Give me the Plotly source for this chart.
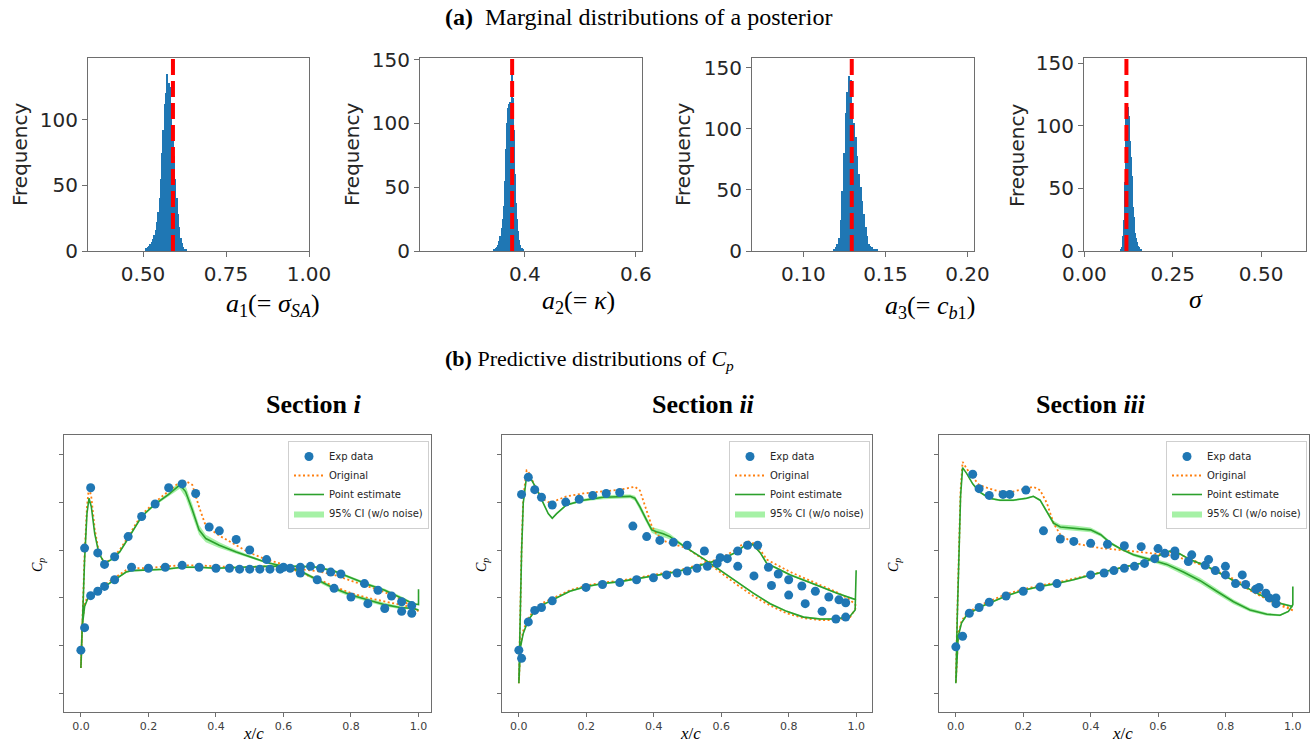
import numpy as np
import plotly.graph_objects as go

W, H = 1311, 744

# ---------------- (a) marginal posterior histograms ----------------
a1_bin_start, a1_bin_width = 0.510, 0.004
a1_counts = [2, 3, 4, 5, 7, 9, 12, 16, 22, 30, 40, 55, 75, 92, 112, 120, 135, 128, 125, 112,
             90, 72, 55, 40, 28, 18, 10, 6, 3, 1, 1]
a2_bin_start, a2_bin_width = 0.344, 0.002
a2_counts = [1, 1, 2, 3, 5, 8, 12, 18, 25, 35, 55, 80, 100, 112, 115, 117, 148, 120, 95, 60,
             38, 25, 16, 9, 5, 2, 1]
a3_bin_start, a3_bin_width = 0.119, 0.001
a3_counts = [1, 3, 6, 11, 25, 49, 80, 113, 130, 143, 140, 117, 105, 93, 78, 63, 52, 41, 30, 20,
             12, 6, 4, 3, 2, 1, 1]
sg_bin_start, sg_bin_width = 0.104, 0.002
sg_counts = [1, 3, 6, 12, 25, 55, 88, 108, 118, 117, 115, 108, 98, 88, 75, 60, 47, 35, 27, 20,
             14, 10, 7, 5, 4, 3, 2, 1, 1]
point_estimates = [0.59, 0.377, 0.1295, 0.119]

# ---------------- (b) Cp data: Section i ----------------
s1_exp_x = [0, 0.011, 0.011, 0.029, 0.029, 0.05, 0.05, 0.07, 0.07, 0.10, 0.10, 0.14, 0.15, 0.18, 0.20,
            0.22, 0.25, 0.26, 0.30, 0.30, 0.34, 0.35, 0.38, 0.41, 0.40, 0.44, 0.46, 0.47, 0.50, 0.50,
            0.53, 0.55, 0.56, 0.59, 0.60, 0.62, 0.65, 0.65, 0.68, 0.70, 0.71, 0.74, 0.75, 0.77, 0.80,
            0.84, 0.85, 0.88, 0.90, 0.92, 0.95, 0.95, 0.98, 0.98]
s1_exp_cp = [1.045, 0.81, -0.02, -0.65, 0.476, 0.03, 0.43, 0.15, 0.38, 0.07, 0.31, -0.14, 0.18, -0.35,
             0.19, -0.48, 0.18, -0.65, -0.69, 0.16, -0.59, 0.18, -0.24, -0.20, 0.19, 0.19, -0.11, 0.20,
             0.0, 0.20, 0.20, 0.10, 0.20, 0.20, 0.18, 0.19, 0.18, 0.24, 0.17, 0.31, 0.19, 0.23, 0.40,
             0.25, 0.49, 0.35, 0.56, 0.42, 0.61, 0.48, 0.64, 0.54, 0.66, 0.58]
s1_suc_x = [0.000, 0.004, 0.011, 0.018, 0.024, 0.031, 0.041, 0.053, 0.070, 0.090, 0.115, 0.140, 0.180,
            0.220, 0.260, 0.293, 0.310, 0.330, 0.350, 0.370, 0.410, 0.460, 0.500, 0.550, 0.600, 0.650,
            0.700, 0.750, 0.800, 0.850, 0.900, 0.945, 0.985, 1.000]
s1_suc_pe = [1.23, 0.73, 0.10, -0.38, -0.54, -0.45, -0.17, 0.03, 0.14, 0.10, 0.02, -0.12, -0.35, -0.48,
             -0.58, -0.68, -0.61, -0.42, -0.21, -0.12, -0.05, 0.02, 0.07, 0.13, 0.17, 0.22, 0.31, 0.40,
             0.47, 0.52, 0.57, 0.60, 0.61, 0.625]
s1_suc_orig = [1.23, 0.70, 0.05, -0.45, -0.66, -0.55, -0.22, 0.02, 0.14, 0.09, 0.00, -0.14, -0.37, -0.50,
               -0.61, -0.71, -0.72, -0.68, -0.45, -0.25, -0.15, -0.05, 0.03, 0.10, 0.15, 0.24, 0.30,
               0.38, 0.45, 0.50, 0.54, 0.57, 0.60, 0.64]
s1_suc_ci = [0.01, 0.01, 0.01, 0.01, 0.01, 0.01, 0.01, 0.01, 0.01, 0.01, 0.01, 0.01, 0.01, 0.015, 0.02,
             0.04, 0.06, 0.06, 0.05, 0.04, 0.03, 0.02, 0.015, 0.01, 0.01, 0.015, 0.02, 0.02, 0.02, 0.02,
             0.02, 0.015, 0.01, 0.01]
s1_pre_x = [0.000, 0.004, 0.011, 0.021, 0.036, 0.070, 0.100, 0.134, 0.150, 0.200, 0.250, 0.300, 0.350,
            0.400, 0.475, 0.550, 0.600, 0.650, 0.700, 0.750, 0.800, 0.850, 0.900, 0.950, 0.985, 1.000, 1.000]
s1_pre_pe = [1.23, 0.80, 0.59, 0.50, 0.46, 0.38, 0.31, 0.23, 0.215, 0.21, 0.20, 0.18, 0.18, 0.19, 0.18,
             0.17, 0.17, 0.17, 0.18, 0.22, 0.29, 0.36, 0.42, 0.50, 0.56, 0.57, 0.41]
s1_pre_orig = [1.23, 0.78, 0.56, 0.48, 0.44, 0.36, 0.29, 0.21, 0.19, 0.19, 0.17, 0.16, 0.16, 0.17, 0.18,
               0.17, 0.18, 0.20, 0.22, 0.26, 0.32, 0.38, 0.44, 0.52, 0.60, 0.64, 0.64]
s1_pre_ci = [0.01] * 19 + [0.015, 0.015, 0.015, 0.015, 0.015, 0.01, 0.0, 0.0]

# ---------------- Section ii ----------------
s2_exp_x = [0, 0.008, 0.008, 0.028, 0.028, 0.047, 0.047, 0.067, 0.067, 0.099, 0.099, 0.139, 0.179, 0.199,
            0.219, 0.248, 0.259, 0.299, 0.299, 0.338, 0.349, 0.379, 0.399, 0.418, 0.438, 0.458, 0.469,
            0.499, 0.499, 0.528, 0.55, 0.559, 0.588, 0.597, 0.618, 0.649, 0.649, 0.678, 0.697, 0.708,
            0.74, 0.749, 0.769, 0.80, 0.80, 0.839, 0.849, 0.879, 0.899, 0.919, 0.94, 0.949, 0.969, 0.969]
s2_exp_cp = [1.045, 1.13, -0.58, -0.76, 0.75, -0.63, 0.63, -0.55, 0.60, -0.47, 0.53, -0.50, -0.53, 0.39,
             -0.57, 0.36, -0.59, -0.60, 0.34, -0.25, 0.31, -0.14, 0.29, -0.10, 0.26, -0.08, 0.24, -0.05,
             0.22, 0.19, 0.01, 0.17, 0.14, 0.08, 0.09, 0.01, 0.17, -0.05, 0.27, -0.05, 0.18, 0.37, 0.25,
             0.31, 0.47, 0.375, 0.56, 0.43, 0.64, 0.49, 0.72, 0.52, 0.70, 0.55]
s2_suc_x = [0.000, 0.003, 0.008, 0.013, 0.023, 0.028, 0.038, 0.052, 0.072, 0.087, 0.099, 0.112, 0.141,
            0.191, 0.250, 0.300, 0.330, 0.344, 0.359, 0.379, 0.394, 0.408, 0.428, 0.448, 0.468, 0.498,
            0.547, 0.596, 0.646, 0.695, 0.745, 0.794, 0.844, 0.893, 0.943, 0.982, 0.997, 1.000]
s2_suc_pe = [1.39, 0.73, 0.03, -0.49, -0.77, -0.78, -0.73, -0.64, -0.50, -0.38, -0.33, -0.38, -0.47,
             -0.52, -0.55, -0.56, -0.56, -0.54, -0.45, -0.31, -0.21, -0.19, -0.17, -0.14, -0.09, -0.02,
             0.09, 0.21, 0.33, 0.45, 0.56, 0.64, 0.70, 0.72, 0.72, 0.69, 0.625, 0.21]
s2_suc_orig = [1.39, 0.70, 0.00, -0.55, -0.83, -0.82, -0.74, -0.63, -0.53, -0.50, -0.50, -0.52, -0.56,
               -0.59, -0.61, -0.63, -0.65, -0.66, -0.62, -0.42, -0.25, -0.17, -0.10, -0.07, -0.05,
               -0.02, 0.10, 0.23, 0.36, 0.48, 0.58, 0.66, 0.71, 0.73, 0.73, 0.70, 0.62, 0.58]
s2_suc_ci = [0.01] * 13 + [0.015, 0.02, 0.02, 0.02, 0.025, 0.03, 0.03, 0.03, 0.035, 0.035, 0.03, 0.02] \
            + [0.01] * 12 + [0.0]
s2_pre_x = [0.000, 0.005, 0.013, 0.028, 0.047, 0.072, 0.099, 0.151, 0.200, 0.250, 0.300, 0.349, 0.399,
            0.448, 0.498, 0.547, 0.587, 0.617, 0.646, 0.666, 0.681, 0.696, 0.716, 0.735, 0.765, 0.805,
            0.844, 0.893, 0.943, 0.982, 1.000]
s2_pre_pe = [1.39, 1.01, 0.87, 0.73, 0.64, 0.57, 0.52, 0.43, 0.38, 0.35, 0.33, 0.30, 0.27, 0.24, 0.20,
             0.15, 0.11, 0.07, 0.02, -0.04, -0.08, -0.05, 0.03, 0.14, 0.19, 0.26, 0.31, 0.38, 0.45, 0.50,
             0.52]
s2_pre_orig = [1.39, 0.98, 0.84, 0.71, 0.62, 0.55, 0.50, 0.42, 0.37, 0.34, 0.32, 0.29, 0.26, 0.23, 0.19,
               0.14, 0.10, 0.05, -0.01, -0.07, -0.09, -0.07, 0.0, 0.10, 0.16, 0.23, 0.29, 0.36, 0.44,
               0.52, 0.58]
s2_pre_ci = [0.01] * 31

# ---------------- Section iii ----------------
s3_exp_x = [0, 0.02, 0.04, 0.05, 0.069, 0.069, 0.099, 0.099, 0.14, 0.16, 0.149, 0.20, 0.208, 0.25, 0.26,
            0.30, 0.31, 0.35, 0.40, 0.40, 0.44, 0.45, 0.469, 0.50, 0.50, 0.53, 0.55, 0.56, 0.59, 0.60,
            0.62, 0.65, 0.65, 0.69, 0.70, 0.74, 0.75, 0.77, 0.80, 0.80, 0.83, 0.85, 0.86, 0.89, 0.90,
            0.92, 0.93, 0.95, 0.95]
s3_exp_cp = [1.01, 0.90, 0.66, -0.79, -0.64, 0.60, -0.57, 0.545, -0.58, -0.58, 0.48, 0.43, -0.625, 0.385,
             -0.20, 0.35, -0.115, -0.09, -0.07, 0.26, 0.24, -0.06, 0.215, -0.045, 0.19, 0.17, -0.035,
             0.14, 0.09, -0.015, 0.035, 0.01, 0.06, 0.12, 0.05, 0.16, 0.10, 0.215, 0.26, 0.17, 0.35,
             0.26, 0.36, 0.41, 0.39, 0.45, 0.50, 0.50, 0.56]
s3_suc_x = [0.000, 0.004, 0.009, 0.014, 0.020, 0.032, 0.050, 0.069, 0.099, 0.131, 0.170, 0.210, 0.230,
            0.250, 0.270, 0.290, 0.310, 0.350, 0.400, 0.430, 0.460, 0.490, 0.527, 0.576, 0.626, 0.675,
            0.725, 0.774, 0.824, 0.873, 0.923, 0.962, 0.987, 1.000, 1.000]
s3_suc_pe = [1.39, 0.73, 0.03, -0.56, -0.86, -0.80, -0.69, -0.61, -0.54, -0.52, -0.52, -0.54, -0.56,
             -0.52, -0.40, -0.28, -0.24, -0.23, -0.21, -0.16, -0.07, -0.01, 0.05, 0.10, 0.15, 0.23, 0.32,
             0.43, 0.54, 0.625, 0.67, 0.68, 0.64, 0.57, 0.38]
s3_suc_orig = [1.39, 0.70, 0.00, -0.62, -0.92, -0.85, -0.76, -0.68, -0.64, -0.61, -0.61, -0.64, -0.66,
               -0.625, -0.49, -0.28, -0.16, -0.07, -0.035, -0.02, -0.01, 0.00, 0.01, 0.03, 0.05, 0.09,
               0.15, 0.22, 0.30, 0.39, 0.48, 0.55, 0.60, 0.63, 0.63]
s3_suc_ci = [0.01] * 14 + [0.02, 0.025, 0.025, 0.025, 0.025, 0.02, 0.015, 0.01] \
            + [0.015, 0.02, 0.025, 0.03, 0.03, 0.03, 0.025, 0.02, 0.015, 0.01, 0.01, 0.0, 0.0]
s3_pre_x = [0.000, 0.007, 0.017, 0.032, 0.069, 0.099, 0.149, 0.200, 0.250, 0.299, 0.349, 0.400, 0.448,
            0.497, 0.547, 0.586, 0.616, 0.636, 0.655, 0.695, 0.745, 0.794, 0.844, 0.893, 0.943, 1.000]
s3_pre_pe = [1.39, 0.90, 0.76, 0.68, 0.60, 0.55, 0.48, 0.42, 0.38, 0.35, 0.31, 0.26, 0.22, 0.18, 0.14,
             0.09, 0.035, 0.01, 0.02, 0.10, 0.17, 0.26, 0.36, 0.45, 0.54, 0.59]
s3_pre_orig = [1.39, 0.88, 0.74, 0.66, 0.58, 0.53, 0.46, 0.41, 0.37, 0.34, 0.30, 0.26, 0.22, 0.18, 0.14,
               0.08, 0.03, 0.02, 0.03, 0.09, 0.17, 0.26, 0.36, 0.46, 0.55, 0.63]
s3_pre_ci = [0.01] * 26

x_ticks = [0.0, 0.2, 0.4, 0.6, 0.8, 1.0]
x_tick_text = ["0.0", "0.2", "0.4", "0.6", "0.8", "1.0"]
cp_ticks = [-1.0, -0.5, 0.0, 0.5, 1.0, 1.5]
section_names = ["<b>Section <i>i</i></b>", "<b>Section <i>ii</i></b>", "<b>Section <i>iii</i></b>"]

# ---------------- layout helpers ----------------
def xd(l, r):
    return [l / W, r / W]


def yd(t, b):
    return [1 - b / H, 1 - t / H]


def px(x):
    return x / W


def py(y):
    return 1 - y / H


BLUE = "#1f77b4"
ORANGE = "#ff7f0e"
GREEN = "#2ca02c"
FRAME = "#6e6e6e"

fig = go.Figure()
layout = dict(width=W, height=H, margin=dict(l=0, r=0, t=0, b=0, pad=0, autoexpand=False),
              paper_bgcolor="white", plot_bgcolor="white", bargap=0, showlegend=True)
shapes = []
annotations = []

# ---------- histograms ----------
hists = [
    (a1_bin_start, a1_bin_width, a1_counts),
    (a2_bin_start, a2_bin_width, a2_counts),
    (a3_bin_start, a3_bin_width, a3_counts),
    (sg_bin_start, sg_bin_width, sg_counts),
]
hist_boxes = [(88, 309), (420, 642), (752, 974), (1084, 1306)]
hist_xr = [[0.334, 1.0], [0.211, 0.611], [0.0687, 0.204], [-0.001, 0.627]]
hist_yr = [[0, 147], [0, 151.3], [0, 158], [0, 154]]
hist_xt = [([0.5, 0.75, 1.0], ["0.50", "0.75", "1.00"]),
           ([0.4, 0.6], ["0.4", "0.6"]),
           ([0.10, 0.15, 0.20], ["0.10", "0.15", "0.20"]),
           ([0.0, 0.25, 0.5], ["0.00", "0.25", "0.50"])]
hist_yt = [[0, 50, 100], [0, 50, 100, 150], [0, 50, 100, 150], [0, 50, 100, 150]]
hist_titles = ["<i>a</i><sub>1</sub>(= <i>σ</i><sub><i>SA</i></sub>)",
               "<i>a</i><sub>2</sub>(= <i>κ</i>)",
               "<i>a</i><sub>3</sub>(= <i>c</i><sub><i>b</i>1</sub>)",
               "<i>σ</i>"]
hist_title_pos = [(273, 305), (578, 302), (930, 307), (1196, 299)]
freq_x = [20, 352, 683, 1017]

for i, (start, width, counts) in enumerate(hists):
    k = i + 1
    sfx = "" if k == 1 else str(k)
    centers = start + width * np.arange(len(counts))
    fig.add_trace(go.Bar(x=centers, y=counts, width=width, marker=dict(color=BLUE, line=dict(width=0)),
                         xaxis="x" + sfx, yaxis="y" + sfx, showlegend=False))
    l, r = hist_boxes[i]
    common = dict(showline=True, mirror=True, linecolor=FRAME, linewidth=1, ticks="outside",
                  ticklen=5, tickcolor=FRAME, showgrid=False, zeroline=False, automargin=False,
                  tickfont=dict(family="DejaVu Sans", size=20, color="#262626"))
    layout["xaxis" + sfx] = dict(domain=xd(l, r), anchor="y" + sfx, range=hist_xr[i],
                                 tickvals=hist_xt[i][0], ticktext=hist_xt[i][1], **common)
    layout["yaxis" + sfx] = dict(domain=yd(58, 251), anchor="x" + sfx, range=hist_yr[i],
                                 tickvals=hist_yt[i], **common)
    shapes.append(dict(type="line", xref="x" + sfx, yref="y" + sfx + " domain",
                       x0=point_estimates[i], x1=point_estimates[i], y0=0, y1=1,
                       line=dict(color="red", width=4, dash="16px,6px")))
    annotations.append(dict(x=px(freq_x[i]), y=py(155), xref="paper", yref="paper", text="Frequency",
                            textangle=-90, showarrow=False, xanchor="center", yanchor="middle",
                            font=dict(family="DejaVu Sans", size=20, color="#262626")))
    tx, ty = hist_title_pos[i]
    annotations.append(dict(x=px(tx), y=py(ty), xref="paper", yref="paper", text=hist_titles[i],
                            showarrow=False, xanchor="center", yanchor="middle",
                            font=dict(family="Liberation Serif", size=26, color="black")))

# ---------- Cp plots ----------
sections = [
    (s1_exp_x, s1_exp_cp, s1_suc_x, s1_suc_pe, s1_suc_orig, s1_suc_ci,
     s1_pre_x, s1_pre_pe, s1_pre_orig, s1_pre_ci),
    (s2_exp_x, s2_exp_cp, s2_suc_x, s2_suc_pe, s2_suc_orig, s2_suc_ci,
     s2_pre_x, s2_pre_pe, s2_pre_orig, s2_pre_ci),
    (s3_exp_x, s3_exp_cp, s3_suc_x, s3_suc_pe, s3_suc_orig, s3_suc_ci,
     s3_pre_x, s3_pre_pe, s3_pre_orig, s3_pre_ci),
]
cp_boxes = [(64, 431), (502, 872), (939, 1309)]
cp_xr = [[-0.05, 1.037], [-0.05, 1.047], [-0.05, 1.048]]
cp_title_x = [313, 703, 1091]
xc_pos = [253, 690, 1122]
cplabel_x = [38, 482, 894]

for j, sec in enumerate(sections):
    (ex, ecp, sx, spe, sorig, sci, prx, ppe, porig, pci) = sec
    k = j + 5
    sfx = str(k)
    leg = "legend" if j == 0 else "legend%d" % (j + 1)
    # CI band (two polygons)
    bx, by = [], []
    for xs, ys, cs in ((sx, spe, sci), (prx, ppe, pci)):
        xs_a, ys_a, cs_a = np.array(xs), np.array(ys), np.array(cs)
        bx += list(xs_a) + list(xs_a[::-1]) + [None]
        by += list(ys_a + cs_a) + list((ys_a - cs_a)[::-1]) + [None]
    fig.add_trace(go.Scatter(x=bx, y=by, mode="lines", fill="toself",
                             fillcolor="rgba(144,238,144,0.8)", line=dict(width=0),
                             name="95% CI (w/o noise)", legend=leg, legendrank=4,
                             xaxis="x" + sfx, yaxis="y" + sfx, hoverinfo="skip"))
    # original (orange dotted)
    ox = list(prx[::-1]) + list(sx)
    oy = list(porig[::-1]) + list(sorig)
    fig.add_trace(go.Scatter(x=ox, y=oy, mode="lines", line=dict(color=ORANGE, width=1.8, dash="2px,2.5px"),
                             name="Original", legend=leg, legendrank=2,
                             xaxis="x" + sfx, yaxis="y" + sfx))
    # point estimate (green)
    gx = list(prx[::-1]) + list(sx)
    gy = list(ppe[::-1]) + list(spe)
    fig.add_trace(go.Scatter(x=gx, y=gy, mode="lines", line=dict(color=GREEN, width=1.6),
                             name="Point estimate", legend=leg, legendrank=3,
                             xaxis="x" + sfx, yaxis="y" + sfx))
    # experimental data
    fig.add_trace(go.Scatter(x=ex, y=ecp, mode="markers", marker=dict(color=BLUE, size=9),
                             name="Exp data", legend=leg, legendrank=1,
                             xaxis="x" + sfx, yaxis="y" + sfx))
    l, r = cp_boxes[j]
    common = dict(showline=True, mirror=True, linecolor=FRAME, linewidth=1, ticks="outside",
                  ticklen=4, tickcolor=FRAME, showgrid=False, zeroline=False, automargin=False)
    layout["xaxis" + sfx] = dict(domain=xd(l, r), anchor="y" + sfx, range=cp_xr[j],
                                 tickvals=x_ticks, ticktext=x_tick_text,
                                 tickfont=dict(family="DejaVu Sans", size=11, color="#404040"), **common)
    layout["yaxis" + sfx] = dict(domain=yd(435, 712), anchor="x" + sfx, range=[1.69, -1.2],
                                 tickvals=cp_ticks, showticklabels=False, **common)
    layout[leg] = dict(x=px(r - 2), y=py(441), xanchor="right", yanchor="top",
                       bgcolor="white", bordercolor="#cfcfcf", borderwidth=1,
                       font=dict(family="DejaVu Sans", size=10, color="#262626"),
                       itemwidth=30, tracegroupgap=0)
    annotations.append(dict(x=px(cp_title_x[j]), y=py(405), xref="paper", yref="paper",
                            text=section_names[j], showarrow=False, xanchor="center", yanchor="middle",
                            font=dict(family="Liberation Serif", size=26, color="black")))
    annotations.append(dict(x=px(xc_pos[j]), y=py(733), xref="paper", yref="paper",
                            text="<i>x</i>/<i>c</i>", showarrow=False, xanchor="center", yanchor="middle",
                            font=dict(family="Liberation Serif", size=17, color="black")))
    annotations.append(dict(x=px(cplabel_x[j]), y=py(565), xref="paper", yref="paper",
                            text="<i>C</i><sub><i>p</i></sub>", textangle=-90, showarrow=False,
                            xanchor="center", yanchor="middle",
                            font=dict(family="Liberation Serif", size=14, color="black")))

# ---------- panel titles ----------
annotations.append(dict(x=px(639), y=py(17), xref="paper", yref="paper",
                        text="<b>(a)</b>  Marginal distributions of a posterior", showarrow=False,
                        xanchor="center", yanchor="middle",
                        font=dict(family="Liberation Serif", size=24, color="black")))
annotations.append(dict(x=px(589), y=py(360), xref="paper", yref="paper",
                        text="<b>(b)</b> Predictive distributions of <i>C</i><sub><i>p</i></sub>",
                        showarrow=False, xanchor="center", yanchor="middle",
                        font=dict(family="Liberation Serif", size=22, color="black")))

layout["shapes"] = shapes
layout["annotations"] = annotations
fig.update_layout(**layout)
fig.write_html(
    "out.html",
    config={"displayModeBar": False},
    post_script=("document.body.style.margin='0px';document.body.style.padding='0px';"
                 "document.documentElement.style.overflow='hidden';"),
)
